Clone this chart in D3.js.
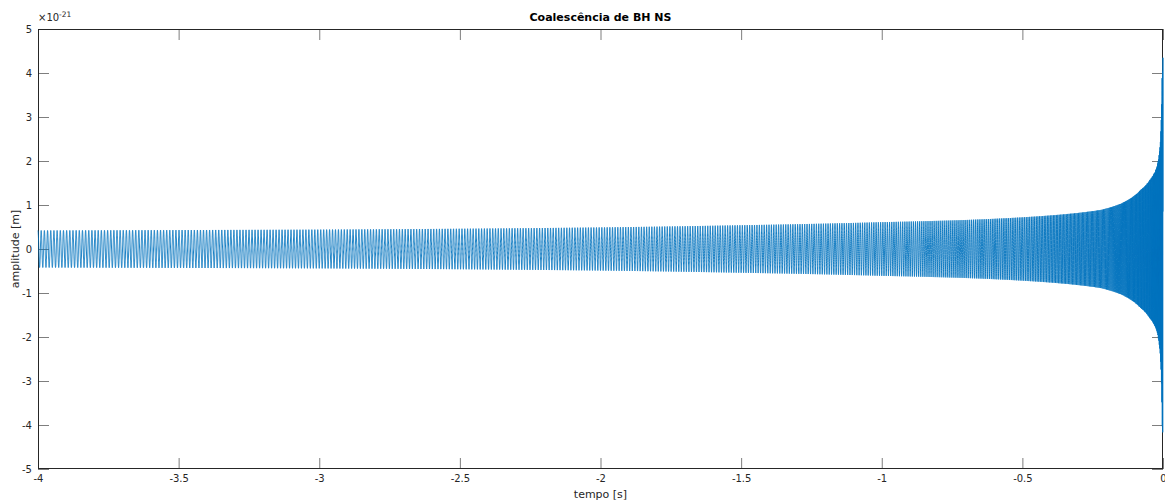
<!DOCTYPE html>
<html>
<head>
<meta charset="utf-8">
<script src="https://cdn.jsdelivr.net/npm/d3@7"></script>
<style>
  body { margin: 0; background: #fff; }
  svg { display: block; font-family: "DejaVu Sans", sans-serif; }
</style>
</head>
<body>
<div id="chart"></div>
<script>
'use strict';

// envelope (time [s], amplitude x1e-21)
const envTime = [-4, -3.5, -3, -2.5, -2, -1.5, -1, -0.7, -0.5, -0.35, -0.22, -0.15, -0.08, -0.047, -0.022, -0.011, -0.005, -0.003, 0];
const envAmp  = [0.42, 0.43, 0.44, 0.46, 0.49, 0.54, 0.61, 0.66, 0.72, 0.79, 0.89, 1.03, 1.34, 1.57, 1.86, 2.3, 3.2, 4.0, 4.45];
// apparent oscillation rate (time [s], cycles per second)
const freqTime = [-4, -3, -2, -1, -0.5, -0.2, -0.05, 0];
const freqVal  = [88, 95, 105, 125, 160, 240, 400, 700];

const xTicks = [-4, -3.5, -3, -2.5, -2, -1.5, -1, -0.5, 0];
const yTicks = [-5, -4, -3, -2, -1, 0, 1, 2, 3, 4, 5];

const W = 1165, H = 504;
const m = {top: 29, right: 2, bottom: 35, left: 38};
const ink = '#262626';

const svg = d3.select('#chart').append('svg')
  .attr('width', W).attr('height', H);

const x = d3.scaleLinear().domain([-4, 0]).range([m.left, W - m.right]);
const y = d3.scaleLinear().domain([-5, 5]).range([H - m.bottom, m.top]);

// interpolate the envelope in log-log space (time to merger vs amplitude) so it bends smoothly
const eps = 0.0008;
const logEnv = d3.scaleLinear()
  .domain(envTime.map(t => Math.log(-t + eps)))
  .range(envAmp.map(Math.log));
const envAt  = t => Math.exp(logEnv(Math.log(-t + eps)));
const freqAt = d3.scaleLinear().domain(freqTime).range(freqVal);

// build the trace from the readings: envelope times an oscillation at the read rate
const n = 40000;
const trace = [];
let phase = 0;
for (let i = 0; i <= n; i++) {
  const t = -4 + 4 * i / n;
  trace.push([t, envAt(t) * Math.cos(phase)]);
  phase += 2 * Math.PI * freqAt(t) * (4 / n);
}

// axes, ticks inside, box on
const tl = 11;
const fmt = d => d3.format('')(d).replace('−', '-');
const xb = svg.append('g').attr('transform', `translate(0,${H - m.bottom})`)
  .call(d3.axisBottom(x).tickValues(xTicks).tickSize(-tl).tickPadding(6).tickFormat(fmt));
const xt = svg.append('g').attr('transform', `translate(0,${m.top})`)
  .call(d3.axisTop(x).tickValues(xTicks).tickSize(-tl).tickFormat(''));
const yl = svg.append('g').attr('transform', `translate(${m.left},0)`)
  .call(d3.axisLeft(y).tickValues(yTicks).tickSize(-tl).tickPadding(6).tickFormat(fmt));
const yr = svg.append('g').attr('transform', `translate(${W - m.right},0)`)
  .call(d3.axisRight(y).tickValues(yTicks).tickSize(-tl).tickFormat(''));

[xb, xt, yl, yr].forEach(g => {
  g.select('.domain').remove();
  g.selectAll('.tick line').style('stroke', ink).style('stroke-width', 0.6);
  g.selectAll('text').style('fill', ink).style('font-size', '10px')
    .style('font-family', '"DejaVu Sans", sans-serif');
});

svg.append('rect')
  .attr('x', m.left + 0.5).attr('y', m.top + 0.5)
  .attr('width', W - m.right - m.left - 1).attr('height', H - m.bottom - m.top - 1)
  .style('fill', 'none').style('stroke', ink).style('stroke-width', 1);

// data drawn above the axes, as the reference does
svg.append('path')
  .datum(trace)
  .attr('d', d3.line().x(d => x(d[0])).y(d => y(d[1])))
  .style('fill', 'none')
  .style('stroke', '#0072BD')
  .style('stroke-width', 0.9);

// exponent label
const ex = svg.append('text').attr('x', m.left).attr('y', m.top - 8)
  .style('font-size', '10px').style('fill', ink);
ex.append('tspan').text('×10');
ex.append('tspan').attr('dy', -4).style('font-size', '7.5px').text('-21');

svg.append('text')
  .attr('x', (m.left + W - m.right) / 2).attr('y', 21)
  .attr('text-anchor', 'middle')
  .style('font-weight', 'bold').style('font-size', '11px').style('fill', '#000')
  .text('Coalescência de BH NS');

svg.append('text')
  .attr('x', (m.left + W - m.right) / 2).attr('y', 498)
  .attr('text-anchor', 'middle')
  .style('font-size', '11px').style('fill', ink)
  .text('tempo [s]');

svg.append('text')
  .attr('transform', `translate(19,${y(0)}) rotate(-90)`)
  .attr('text-anchor', 'middle')
  .style('font-size', '11px').style('fill', ink)
  .text('amplitude [m]');
</script>
</body>
</html>
